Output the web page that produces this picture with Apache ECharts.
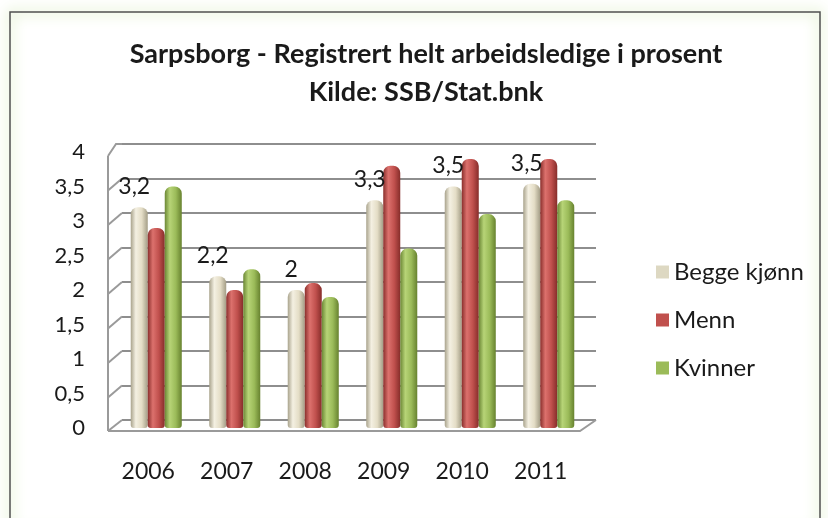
<!DOCTYPE html>
<html>
<head>
<meta charset="utf-8">
<script src="https://cdn.jsdelivr.net/npm/echarts@6/dist/echarts.min.js"></script>
<style>
  html, body { margin: 0; padding: 0; background: #fff; }
  #chart { width: 828px; height: 518px; }
</style>
</head>
<body>
<div id="chart"></div>
<script>
// data
const categories = ['2006', '2007', '2008', '2009', '2010', '2011'];
const beggeKjonn = [3.2, 2.2, 2.0, 3.3, 3.5, 3.54];
const menn = [2.9, 2.0, 2.1, 3.8, 3.9, 3.9];
const kvinner = [3.5, 2.3, 1.9, 2.6, 3.1, 3.3];
const seriesNames = ['Begge kjønn', 'Menn', 'Kvinner'];
const flatColors = ['#ddd8c2', '#c0504d', '#9bbb59'];

const FONT = 'Lato, "Open Sans", sans-serif';

const chart = echarts.init(document.getElementById('chart'));

// horizontal gradient to fake the cylinder shading
function cyl(edge, light, base, dark) {
    return new echarts.graphic.LinearGradient(0, 0, 1, 0, [
        { offset: 0, color: edge },
        { offset: 0.3, color: light },
        { offset: 0.65, color: base },
        { offset: 1, color: dark }
    ]);
}

const fmt = v => String(Math.round(v * 10) / 10).replace('.', ',');

function barSeries(name, data, color, withLabel) {
    return {
        name: name,
        type: 'bar',
        xAxisIndex: 0,
        yAxisIndex: 0,
        data: data,
        barGap: '0%',
        barCategoryGap: '35%',
        itemStyle: { color: color, borderRadius: [7, 7, 3, 3] },
        label: {
            show: withLabel,
            position: 'top',
            distance: 9,
            offset: [-5, 0],
            fontFamily: FONT,
            fontSize: 23,
            color: '#1a1a1a',
            formatter: p => fmt(p.value)
        },
        z: 3
    };
}

const option = {
    animation: false,
    title: {
        text: 'Sarpsborg - Registrert helt arbeidsledige i prosent\nKilde: SSB/Stat.bnk',
        left: 421,
        top: 30,
        textAlign: 'center',
        textStyle: {
            fontFamily: FONT,
            fontWeight: 'bold',
            fontSize: 27,
            lineHeight: 38,
            color: '#1a1a1a'
        }
    },
    legend: {
        orient: 'vertical',
        left: 651,
        top: 255,
        itemWidth: 13,
        itemHeight: 13,
        itemGap: 24,
        icon: 'rect',
        textStyle: { fontFamily: FONT, fontSize: 24, lineHeight: 24, color: '#1a1a1a' },
        data: seriesNames.map((n, i) => ({ name: n, itemStyle: { color: flatColors[i] } }))
    },
    grid: [
        // front plane: bars and tick labels
        { left: 117, right: 240, top: 152, bottom: 90 },
        // back wall: gridlines
        { left: 122, right: 232, top: 144, bottom: 98 }
    ],
    xAxis: [
        {
            type: 'category',
            gridIndex: 0,
            data: categories,
            axisLine: { show: false },
            axisTick: { show: false },
            axisLabel: {
                margin: 32,
                formatter: '{a|{value}}',
                rich: {
                    a: { fontFamily: FONT, fontSize: 23, color: '#1a1a1a', padding: [0, 16, 0, 0] }
                }
            }
        },
        {
            type: 'category',
            gridIndex: 1,
            data: categories,
            show: false
        }
    ],
    yAxis: [
        {
            type: 'value',
            gridIndex: 0,
            min: 0,
            max: 4,
            interval: 0.5,
            splitLine: { show: false },
            axisLine: { show: false },
            axisTick: { show: false },
            axisLabel: {
                margin: 32,
                fontFamily: FONT,
                fontSize: 22,
                color: '#1a1a1a',
                formatter: v => String(v).replace('.', ',')
            }
        },
        {
            type: 'value',
            gridIndex: 1,
            min: 0,
            max: 4,
            interval: 0.5,
            axisLabel: { show: false },
            axisLine: { show: false },
            axisTick: { show: false },
            splitLine: { lineStyle: { color: '#8e8e8e', width: 2 } }
        }
    ],
    series: [
        barSeries(seriesNames[0], beggeKjonn, cyl('#a9a38c', '#f4f0e2', '#e4ddc6', '#a39d86'), true),
        barSeries(seriesNames[1], menn, cyl('#8a2f2c', '#dc716d', '#c0504d', '#862d2a'), false),
        barSeries(seriesNames[2], kvinner, cyl('#6b8735', '#b7d477', '#9bbb59', '#67822f'), false)
    ]
};

chart.setOption(option);

// 3D-looking left wall and floor, built from the axes' own pixel positions
function drawFrame() {
    const yf = v => chart.convertToPixel({ yAxisIndex: 0 }, v);
    const yb = v => chart.convertToPixel({ yAxisIndex: 1 }, v);
    const frontX = 108, backX = 122;
    const floorRight = 580, backRight = 596;
    const line = { stroke: '#9a9a9a', lineWidth: 2, fill: null };
    const els = [];
    const ticks = [0.5, 1, 1.5, 2, 2.5, 3, 3.5];
    ticks.forEach(v => {
        els.push({ type: 'line', shape: { x1: frontX, y1: yf(v) + 4, x2: backX, y2: yb(v) }, style: line, silent: true });
    });
    // top corner
    els.push({ type: 'polyline', shape: { points: [[frontX, yf(4) + 4], [backX - 6, yb(4)], [backX, yb(4)]] }, style: line, silent: true });
    // front left edge
    els.push({ type: 'line', shape: { x1: frontX, y1: yf(4) + 4, x2: frontX, y2: yf(0) + 3 }, style: line, silent: true });
    // floor
    els.push({ type: 'polyline', shape: { points: [[frontX, yf(0) + 3], [backX, yb(0)]] }, style: line, silent: true });
    els.push({ type: 'polyline', shape: { points: [[frontX, yf(0) + 3], [floorRight, yf(0) + 3], [backRight, yb(0)]] }, style: line, silent: true });
    // chart border with green glow
    els.push({
        type: 'rect',
        shape: { x: 10, y: 12, width: 810, height: 520 },
        style: { fill: null, stroke: '#505050', lineWidth: 1.5, shadowBlur: 14, shadowColor: 'rgba(150,200,80,1)' },
        silent: true,
        z: 10
    });
    chart.setOption({ graphic: els });
}
drawFrame();
</script>
</body>
</html>
